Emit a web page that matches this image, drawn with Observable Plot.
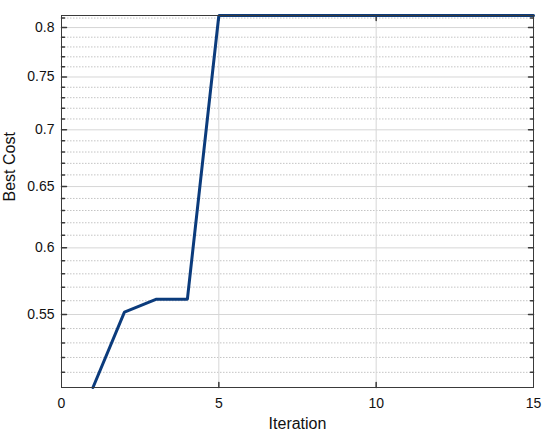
<!DOCTYPE html>
<html>
<head>
<meta charset="utf-8">
<script src="https://cdn.jsdelivr.net/npm/d3@7"></script>
<script src="https://cdn.jsdelivr.net/npm/@observablehq/plot@0.6"></script>
<style>
  html, body { margin: 0; padding: 0; background: #fff; }
  #chart svg { display: block; }
</style>
</head>
<body>
<div id="chart"></div>
<script>
// ---- data ----
const iterations = [1, 2, 3, 4, 5, 6, 7, 8, 9, 10, 11, 12, 13, 14, 15];
const bestCost = [0.500, 0.5517, 0.561, 0.561, 0.8127, 0.8127, 0.8127, 0.8127,
                  0.8127, 0.8127, 0.8127, 0.8127, 0.8127, 0.8127, 0.8127];
const xLimits = [0, 15];
const yLimits = [0.5, 0.8127];
const xTicks = [0, 5, 10, 15];
const xInnerTicks = [5, 10];
const yMajorTicks = [0.55, 0.6, 0.65, 0.7, 0.75, 0.8];
const yMinorTicks = [0.51, 0.52, 0.53, 0.54, 0.56, 0.57, 0.58, 0.59, 0.61, 0.62, 0.63, 0.64,
                     0.66, 0.67, 0.68, 0.69, 0.71, 0.72, 0.73, 0.74, 0.76, 0.77, 0.78, 0.79, 0.81];
const xLabel = "Iteration";
const yLabel = "Best Cost";

const data = iterations.map((x, i) => ({x, y: bestCost[i]}));

const tickShape = {draw(ctx, l) { ctx.moveTo(0, 0); ctx.lineTo(0, -l); }};
const axisColor = "#3a3a3a";
const textColor = "#111";

const chart = Plot.plot({
  width: 550,
  height: 437,
  marginLeft: 61,
  marginRight: 17,
  marginTop: 15,
  marginBottom: 50,
  style: {fontFamily: "'Liberation Sans', Arial, Helvetica, sans-serif", color: textColor, background: "#fff"},
  x: {domain: xLimits},
  y: {type: "log", domain: yLimits, axis: null},
  marks: [
    // minor grid (dotted)
    Plot.ruleY(yMinorTicks, {stroke: "#c4c4c4", strokeDasharray: "1.5,1.5", strokeWidth: 1}),
    // major grid (solid)
    Plot.ruleY(yMajorTicks, {stroke: "#d6d6d6", strokeWidth: 1}),
    Plot.ruleX(xInnerTicks, {stroke: "#d6d6d6", strokeWidth: 1}),
    // inward ticks
    Plot.vector(yMajorTicks, {y: d => d, frameAnchor: "left", rotate: 90, length: 5, anchor: "start", shape: tickShape, stroke: axisColor}),
    Plot.vector(yMajorTicks, {y: d => d, frameAnchor: "right", rotate: -90, length: 5, anchor: "start", shape: tickShape, stroke: axisColor}),
    Plot.vector(yMinorTicks, {y: d => d, frameAnchor: "left", rotate: 90, length: 3, anchor: "start", shape: tickShape, stroke: axisColor}),
    Plot.vector(yMinorTicks, {y: d => d, frameAnchor: "right", rotate: -90, length: 3, anchor: "start", shape: tickShape, stroke: axisColor}),
    Plot.vector(xInnerTicks, {x: d => d, frameAnchor: "bottom", rotate: 0, length: 5, anchor: "start", shape: tickShape, stroke: axisColor}),
    Plot.vector(xInnerTicks, {x: d => d, frameAnchor: "top", rotate: 180, length: 5, anchor: "start", shape: tickShape, stroke: axisColor}),
    // tick labels
    Plot.axisX(xTicks, {tickSize: 0, tickPadding: 11, fontSize: 14, label: null, tickFormat: d => String(d)}),
    Plot.text(yMajorTicks, {y: d => d, text: d => String(d), frameAnchor: "left", textAnchor: "end", dx: -7, fontSize: 14, fill: textColor}),
    // axis titles
    Plot.text([xLabel], {frameAnchor: "bottom", dy: 41, lineAnchor: "bottom", fontSize: 16, fill: textColor}),
    Plot.text([yLabel], {frameAnchor: "left", dx: -58, rotate: -90, lineAnchor: "top", fontSize: 16, fill: textColor}),
    // data line
    Plot.line(data, {x: "x", y: "y", stroke: "#0b3b7c", strokeWidth: 3, strokeLinejoin: "miter"}),
    // box
    Plot.frame({stroke: axisColor, strokeWidth: 1})
  ]
});
document.getElementById("chart").appendChild(chart);
</script>
</body>
</html>
